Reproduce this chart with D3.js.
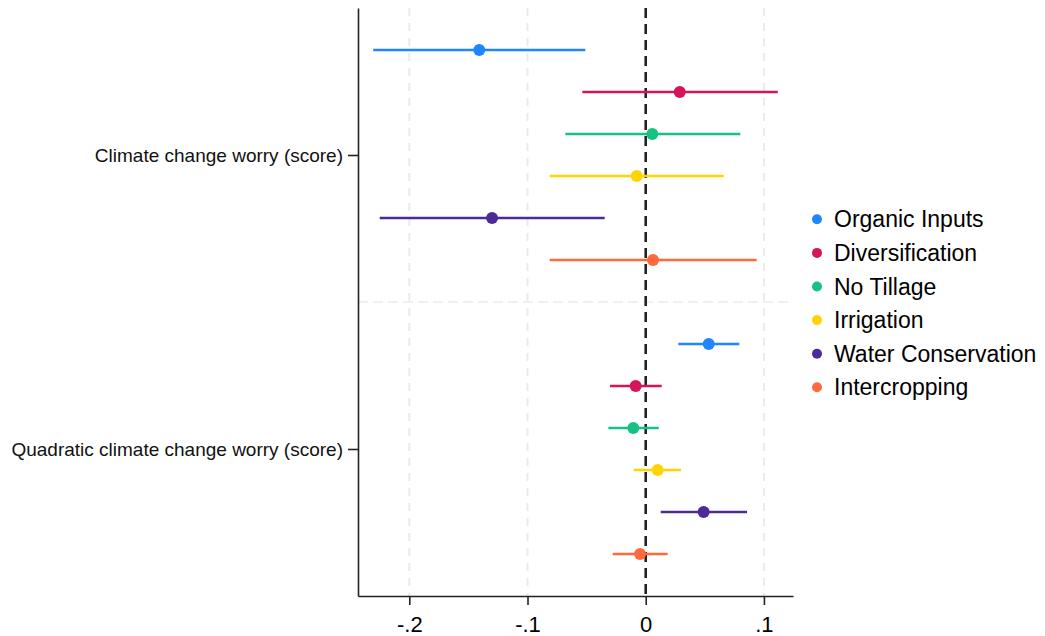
<!DOCTYPE html>
<html>
<head>
<meta charset="utf-8">
<script src="https://cdn.jsdelivr.net/npm/d3@7"></script>
<style>
  body { margin: 0; background: #fff; }
  text { font-family: "Liberation Sans", Arial, sans-serif; }
</style>
</head>
<body>
<div class="main"></div>
<script>
// series (practices) and their colours
var practices = ["Organic Inputs", "Diversification", "No Tillage", "Irrigation", "Water Conservation", "Intercropping"];
var colors = ["#1f86ff", "#d5145a", "#15c282", "#ffd400", "#4c2b98", "#ff693b"];

// y categories
var terms = ["Climate change worry (score)", "Quadratic climate change worry (score)"];

// coefficient + 95% CI, climate change worry
var coefLinear = [-0.1408, 0.0288, 0.0056, -0.0076, -0.1300, 0.0062];
var loLinear   = [-0.2305, -0.0536, -0.0680, -0.0812, -0.2250, -0.0812];
var hiLinear   = [-0.0511, 0.1117, 0.0800, 0.0660, -0.0347, 0.0939];

// coefficient + 95% CI, quadratic term
var coefQuad = [0.0533, -0.0085, -0.0105, 0.0101, 0.0490, -0.0048];
var loQuad   = [0.0276, -0.0302, -0.0316, -0.0102, 0.0127, -0.0279];
var hiQuad   = [0.0792, 0.0135, 0.0110, 0.0299, 0.0857, 0.0186];

// x tick labels
var xTicks = [-0.2, -0.1, 0, 0.1];
var xTickLabels = ["-.2", "-.1", "0", ".1"];

function BuildGraph() {
  var fullwidth = 1045, fullheight = 636;
  var left = 358, right = 793, top = 8, bottom = 596;

  var svg = d3.select(".main")
    .append("svg")
    .attr("width", fullwidth)
    .attr("height", fullheight);

  // build rows: group 1 rows 0..5, gap row 6, group 2 rows 7..12
  var rows = [];
  practices.forEach(function(p, i) {
    rows.push({ term: 0, row: i, name: p, color: colors[i], est: coefLinear[i], lo: loLinear[i], hi: hiLinear[i] });
  });
  practices.forEach(function(p, i) {
    rows.push({ term: 1, row: 7 + i, name: p, color: colors[i], est: coefQuad[i], lo: loQuad[i], hi: hiQuad[i] });
  });

  var x = d3.scaleLinear()
    .domain([-0.2434, 0.1246])
    .range([left, right]);

  var y = d3.scaleLinear()
    .domain([-1, 13])
    .range([top, bottom]);

  // grid lines (vertical, except zero)
  svg.append("g")
    .selectAll("line")
    .data(xTicks.filter(function(d) { return d !== 0; }))
    .join("line")
    .attr("x1", function(d) { return x(d); })
    .attr("x2", function(d) { return x(d); })
    .attr("y1", top)
    .attr("y2", bottom)
    .attr("stroke", "#ebebeb")
    .attr("stroke-width", 2)
    .attr("stroke-dasharray", "8,7");

  // separator between the two terms
  svg.append("line")
    .attr("x1", left)
    .attr("x2", right)
    .attr("y1", y(6))
    .attr("y2", y(6))
    .attr("stroke", "#ebebeb")
    .attr("stroke-width", 1.5)
    .attr("stroke-dasharray", "10,5");

  // zero reference line
  svg.append("line")
    .attr("x1", x(0))
    .attr("x2", x(0))
    .attr("y1", top)
    .attr("y2", bottom)
    .attr("stroke", "#222")
    .attr("stroke-width", 2.6)
    .attr("stroke-dasharray", "10,6");

  // axes
  var xAxis = svg.append("g")
    .attr("transform", "translate(0," + bottom + ")")
    .call(d3.axisBottom(x)
      .tickValues(xTicks)
      .tickFormat(function(d, i) { return xTickLabels[i]; })
      .tickSize(9)
      .tickSizeOuter(0)
      .tickPadding(11));
  xAxis.selectAll("text").style("font-size", "22px").attr("fill", "#000");

  var yAxis = svg.append("g")
    .attr("transform", "translate(" + left + ",0)")
    .call(d3.axisLeft(y)
      .tickValues([2.5, 9.5])
      .tickFormat(function(d, i) { return terms[i]; })
      .tickSize(10)
      .tickSizeOuter(0)
      .tickPadding(5));
  yAxis.selectAll("text").style("font-size", "19px").attr("fill", "#111");

  [xAxis, yAxis].forEach(function(a) {
    a.select(".domain").attr("stroke", "#222").attr("stroke-width", 1.6);
    a.selectAll(".tick line").attr("stroke", "#222").attr("stroke-width", 1.6);
  });

  // confidence intervals
  svg.append("g")
    .selectAll("line")
    .data(rows)
    .join("line")
    .attr("x1", function(d) { return x(d.lo); })
    .attr("x2", function(d) { return x(d.hi); })
    .attr("y1", function(d) { return y(d.row); })
    .attr("y2", function(d) { return y(d.row); })
    .attr("stroke", function(d) { return d.color; })
    .attr("stroke-width", 2.5);

  // point estimates
  svg.append("g")
    .selectAll("circle")
    .data(rows)
    .join("circle")
    .attr("cx", function(d) { return x(d.est); })
    .attr("cy", function(d) { return y(d.row); })
    .attr("r", 6)
    .attr("fill", function(d) { return d.color; });

  // legend
  var legend = svg.append("g");
  practices.forEach(function(p, i) {
    var ly = 219.3 + i * 33.6;
    legend.append("circle")
      .attr("cx", 817)
      .attr("cy", ly)
      .attr("r", 5)
      .attr("fill", colors[i]);
    legend.append("text")
      .attr("x", 834)
      .attr("y", ly + 8)
      .style("font-size", "23px")
      .attr("fill", "#000")
      .text(p);
  });
}

BuildGraph();
</script>
</body>
</html>
